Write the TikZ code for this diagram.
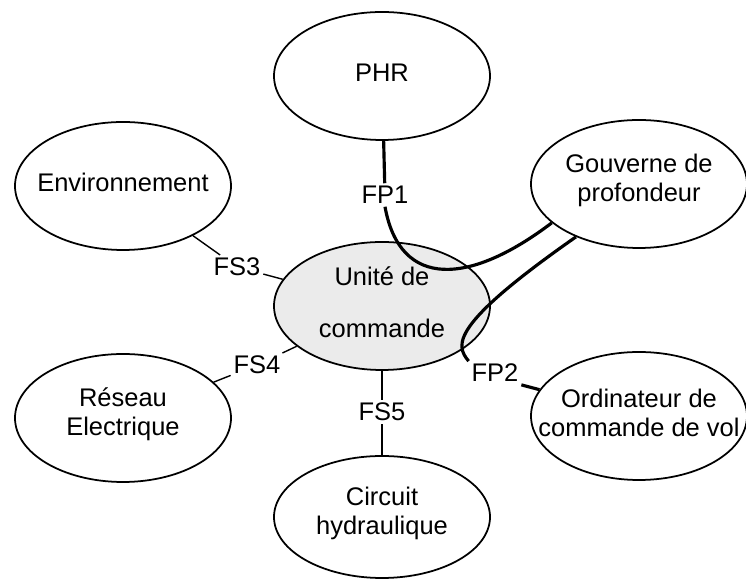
\documentclass[tikz,border=0pt]{standalone}
\usepackage{fontspec}
\setmainfont{Liberation Sans}
\usetikzlibrary{shapes.geometric}
\begin{document}
\begin{tikzpicture}[font=\fontsize{14.5pt}{16.5pt}\selectfont,
  bulle/.style={draw,ellipse,line width=1pt,minimum width=4.32cm,minimum height=2.56cm},
  texte/.style={align=center,yshift=2pt},
  etiq/.style={inner sep=1.5pt},
  lien/.style={line width=0.8pt},
  fp/.style={line width=1.8pt}]
\useasboundingbox (0,0) rectangle (14.92,11.58);
\node[bulle,label={[texte]center:PHR}] (phr) at (7.64,10.06) {};
\node[bulle,label={[texte]center:Environnement}] (env) at (2.46,7.86) {};
\node[bulle,label={[texte]center:Gouverne de\\profondeur}] (gouv) at (12.78,7.90) {};
\node[bulle,fill=black!8,label={[texte]center:Unité de\\[13pt]commande}] (uc) at (7.64,5.46) {};
\node[bulle,label={[texte]center:Réseau\\Electrique}] (reseau) at (2.46,3.22) {};
\node[bulle,label={[texte]center:Ordinateur de\\commande de vol}] (ordi) at (12.78,3.26) {};
\node[bulle,minimum height=2.44cm,label={[texte]center:Circuit\\hydraulique}] (circuit) at (7.64,1.24) {};
\node[etiq] (fp1) at (7.70,7.68) {FP1};
\node[etiq] (fp2) at (9.90,4.12) {FP2};
\node[etiq] (fs3) at (4.74,6.24) {FS3};
\node[etiq] (fs4) at (5.14,4.28) {FS4};
\node[etiq] (fs5) at (7.64,3.34) {FS5};
\draw[lien] (env) -- (fs3) -- (uc);
\draw[lien] (uc) -- (fs4) -- (reseau);
\draw[lien] (uc) -- (fs5) -- (circuit);
\draw[fp] (phr) -- (fp1);
\draw[fp] (fp1.south) .. controls (8.0,5.78) and (9.40,5.88) .. (gouv.204);
\draw[fp] (gouv.220) .. controls (9.0,5.08) and (9.10,4.68) .. (fp2.north west);
\draw[fp] (fp2.south east) -- (ordi);
\end{tikzpicture}
\end{document}
